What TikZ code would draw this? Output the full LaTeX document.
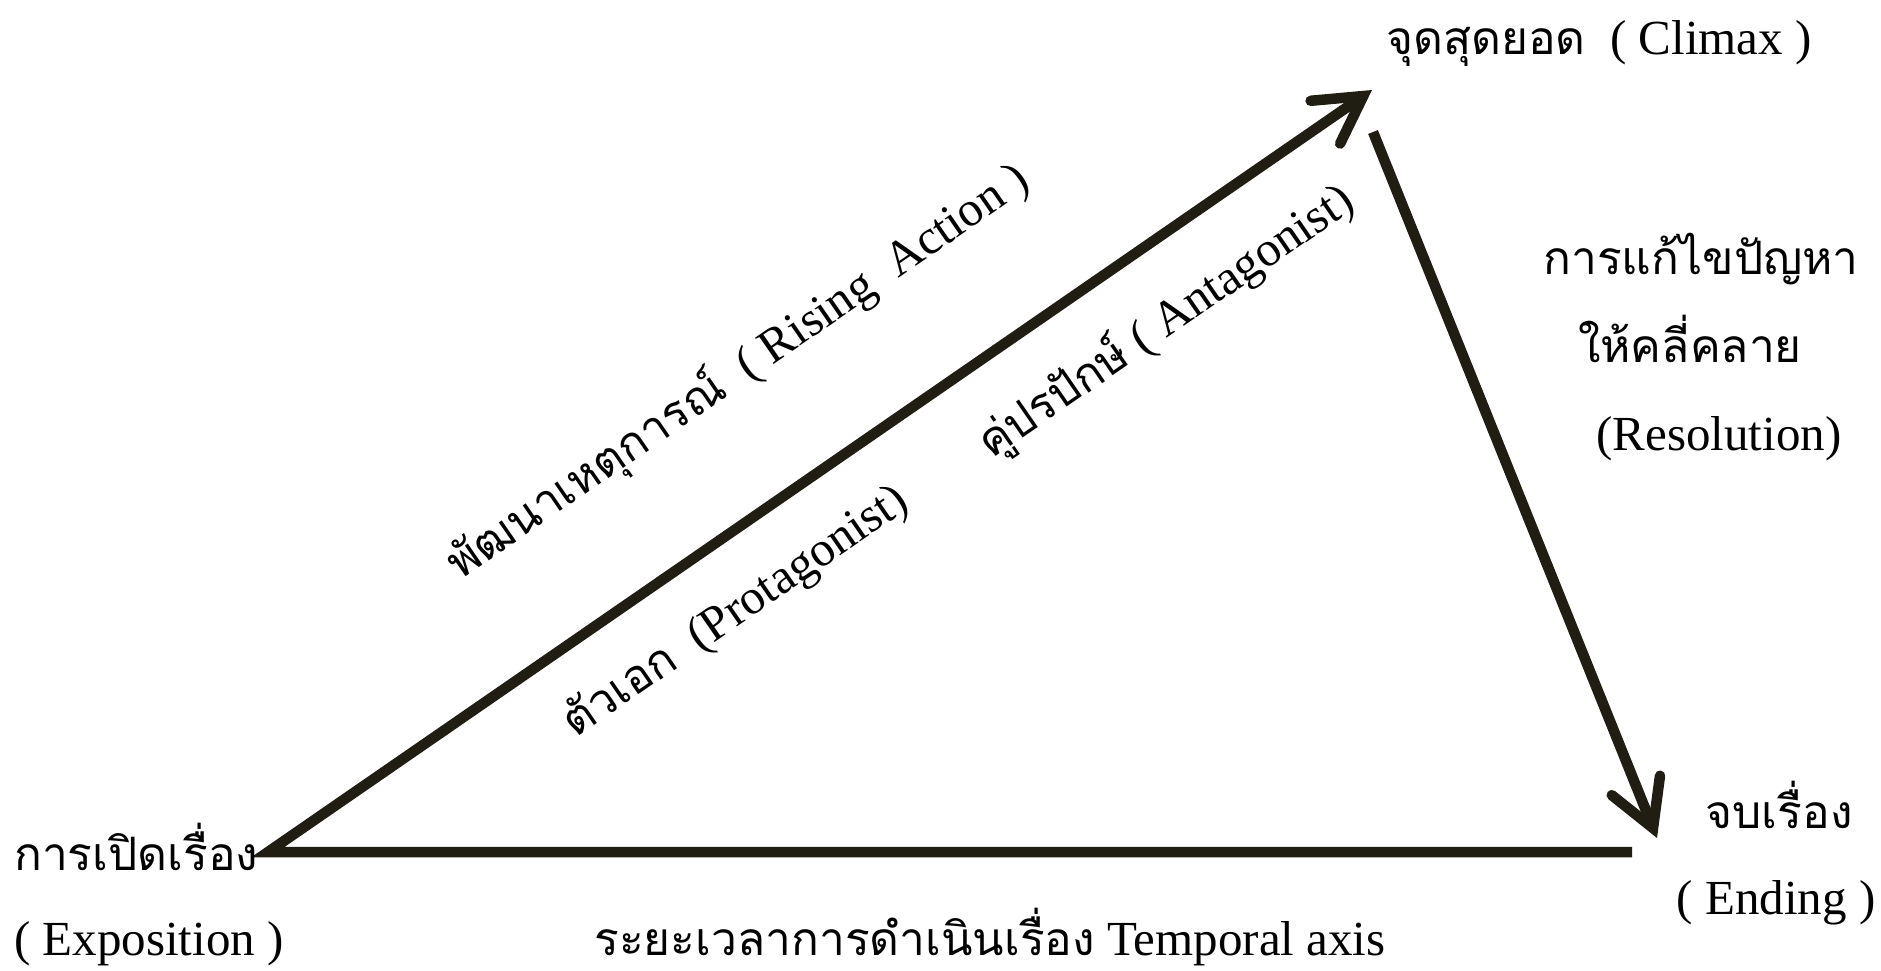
\documentclass[tikz,border=0pt]{standalone}
\usepackage{fontspec}
\usepackage{tikz}
\usetikzlibrary{arrows.meta}
\setmainfont{Liberation Serif}
\newfontfamily\thai[Script=Thai,Scale=0.94]{Loma}
\definecolor{ink}{RGB}{32,29,18}

\begin{document}
\begin{tikzpicture}[>={Straight Barb[length=46pt,width=52pt,line cap=round,line join=miter]}, plot/.style={draw=ink, line width=10.5pt, line join=miter}, lbl/.style={inner sep=0pt, font=\fontsize{49}{56}\selectfont}]
	\useasboundingbox (0.0pt, 0.0pt) rectangle (1881.0pt, -970.0pt);
	\coordinate (expo) at (268.0pt, -852.0pt);
	\coordinate (axisend) at (1632.0pt, -852.0pt);
	\coordinate (peak) at (1372.0pt, -90.0pt);
	\coordinate (fall) at (1373.0pt, -132.0pt);
	\coordinate (fin) at (1657.0pt, -838.0pt);
	\draw[plot, ->] (axisend) -- (expo) -- (peak);
	\draw[plot, ->] (fall) -- (fin);
	\draw (1386.0pt, -54.0pt)node[lbl, anchor=base west](climax){{\thai จุดสุดยอด}\ \ ( Climax )};
	\draw (1701.0pt, -274.0pt)node[lbl, anchor=base](solve1){\thai การแก้ไขปัญหา};
	\draw (1690.0pt, -362.0pt)node[lbl, anchor=base](solve2){\thai ให้คลี่คลาย};
	\draw (1719.0pt, -450.0pt)node[lbl, anchor=base](solve3){(Resolution)};
	\draw (1779.0pt, -828.0pt)node[lbl, anchor=base](end1){\thai จบเรื่อง};
	\draw (1776.0pt, -914.0pt)node[lbl, anchor=base](end2){( Ending )};
	\draw (14.0pt, -870.0pt)node[lbl, anchor=base west](open1){\thai การเปิดเรื่อง};
	\draw (14.0pt, -955.0pt)node[lbl, anchor=base west](open2){( Exposition )};
	\draw (990.0pt, -955.0pt)node[lbl, anchor=base](axis){{\thai ระยะเวลาการดำเนินเรื่อง} Temporal axis};
	\draw (738.0pt, -372.0pt)node[lbl, rotate=34.6](rising){{\thai พัฒนาเหตุการณ์}\ \ ( Rising\ \ Action )};
	\draw (736.0pt, -612.0pt)node[lbl, rotate=34.6](hero){{\thai ตัวเอก}\ \ (Protagonist)};
	\draw (1166.0pt, -322.0pt)node[lbl, rotate=34.6](rival){{\thai คู่ปรปักษ์} ( Antagonist)};
\end{tikzpicture}
\end{document}
